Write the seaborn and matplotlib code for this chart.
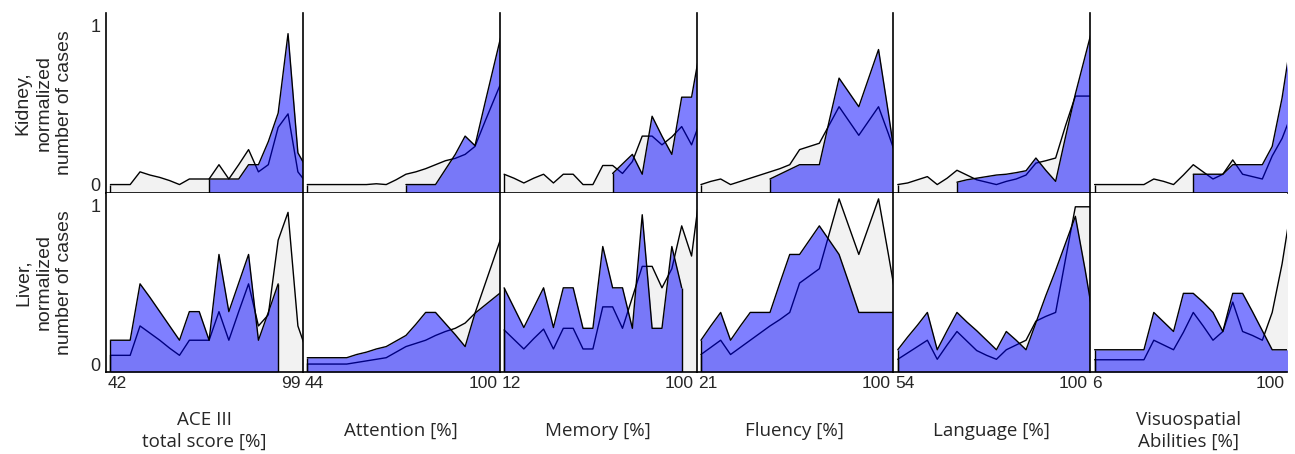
import numpy as np
import matplotlib
matplotlib.use("Agg")
import matplotlib.pyplot as plt
import seaborn as sns

nan = np.nan

# ---- categories / labels ----
measures = ["ACE III\ntotal score [%]", "Attention [%]", "Memory [%]",
            "Fluency [%]", "Language [%]", "Visuospatial\nAbilities [%]"]
range_min = ["42", "44", "12", "21", "54", "6"]
range_max = ["99", "100", "100", "100", "100", "100"]
row_labels = ["Kidney,\nnormalized\nnumber of cases",
              "Liver,\nnormalized\nnumber of cases"]
ytick_vals = [0, 1]

# ---- Kidney: all cases (grey) and subgroup (blue), 21 bins each ----
kidney_grey_ace = [0, 0, 0, 0.08, 0.06, 0.045, 0.025, 0.0, 0.035, 0.035, 0.035,
                   0.125, 0.035, 0.125, 0.22, 0.08, 0.125, 0.36, 0.445, 0.08, 0.0]
kidney_blue_ace = [nan] * 10 + [0.035, 0.035, 0.035, 0.035, 0.125, 0.125, 0.27,
                                0.45, 0.95, 0.2, 0.09]
kidney_grey_att = [0, 0, 0, 0, 0, 0, 0, 0.005, 0.0, 0.03, 0.065, 0.08, 0.10,
                   0.125, 0.15, 0.165, 0.19, 0.24, 0.395, 0.545, 0.695]
kidney_blue_att = [nan] * 10 + [0.0, 0.0, 0.0, 0.0, 0.095, 0.19, 0.305, 0.245,
                                0.51, 0.77, 1.03]
kidney_grey_mem = [0.065, 0.04, 0.01, 0.04, 0.065, 0.01, 0.065, 0.065, 0.0, 0.0,
                   0.12, 0.12, 0.07, 0.145, 0.305, 0.305, 0.25, 0.3, 0.365, 0.25, 0.42]
kidney_blue_mem = [nan] * 11 + [0.07, 0.13, 0.19, 0.065, 0.43, 0.305, 0.19,
                                0.55, 0.55, 0.9]
kidney_grey_flu = [0.0, 0.02, 0.035, 0.0, 0.02, 0.04, 0.06, 0.08, 0.1, 0.125,
                   0.22, 0.24, 0.26, 0.375, 0.49, 0.4, 0.31, 0.4, 0.49, 0.32, 0.14]
kidney_blue_flu = [nan] * 7 + [0.035, 0.065, 0.095, 0.125, 0.125, 0.125, 0.40,
                               0.67, 0.58, 0.49, 0.67, 0.85, 0.45, 0.03]
kidney_grey_lan = [0.0, 0.01, 0.03, 0.05, 0.0, 0.04, 0.09, 0.06, 0.03, 0.015,
                   0.0, 0.02, 0.035, 0.06, 0.135, 0.15, 0.167, 0.37, 0.557, 0.557, 0.557]
kidney_blue_lan = [nan] * 6 + [0.015, 0.03, 0.04, 0.05, 0.06, 0.065, 0.075,
                               0.087, 0.167, 0.09, 0.02, 0.3, 0.57, 0.81, 1.05]
kidney_grey_vis = [0, 0, 0, 0, 0, 0, 0.035, 0.02, 0.0, 0.06, 0.125, 0.08, 0.035,
                   0.065, 0.155, 0.065, 0.05, 0.035, 0.18, 0.29, 0.45]
kidney_blue_vis = [nan] * 10 + [0.065, 0.065, 0.065, 0.065, 0.125, 0.125, 0.125,
                                0.125, 0.24, 0.545, 0.945]

# ---- Liver ----
liver_grey_ace = [0.055, 0.055, 0.055, 0.24, 0.195, 0.15, 0.10, 0.055, 0.15, 0.15,
                  0.15, 0.33, 0.15, 0.33, 0.505, 0.24, 0.31, 0.78, 0.955, 0.24, 0.06]
liver_blue_ace = [0.15, 0.15, 0.15, 0.505, 0.42, 0.33, 0.24, 0.15, 0.33, 0.33,
                  0.15, 0.69, 0.33, 0.51, 0.69, 0.15, 0.325, 0.505, nan, nan, nan]
liver_grey_att = [0, 0, 0, 0, 0, 0.01, 0.02, 0.03, 0.04, 0.075, 0.11, 0.13, 0.15,
                  0.18, 0.205, 0.225, 0.258, 0.32, 0.5, 0.68, 0.86]
liver_blue_att = [0.04, 0.04, 0.04, 0.04, 0.04, 0.06, 0.075, 0.095, 0.11, 0.145,
                  0.18, 0.25, 0.325, 0.325, 0.255, 0.185, 0.11, 0.32, 0.37, 0.42, 0.47]
liver_grey_mem = [0.215, 0.155, 0.095, 0.16, 0.22, 0.095, 0.225, 0.225, 0.095, 0.095,
                  0.36, 0.36, 0.225, 0.42, 0.615, 0.615, 0.48, 0.6, 0.87, 0.68, 1.16]
liver_blue_mem = [0.48, 0.355, 0.23, 0.355, 0.48, 0.23, 0.48, 0.48, 0.225, 0.225,
                  0.74, 0.48, 0.48, 0.225, 0.94, 0.225, 0.225, 0.74, 0.48, nan, nan]
liver_grey_flu = [0.06, 0.105, 0.15, 0.06, 0.105, 0.15, 0.195, 0.24, 0.28, 0.325,
                  0.51, 0.555, 0.6, 0.82, 1.04, 0.865, 0.69, 0.865, 1.04, 0.69, 0.33]
liver_blue_flu = [0.15, 0.24, 0.325, 0.15, 0.24, 0.325, 0.325, 0.325, 0.51, 0.69,
                  0.69, 0.78, 0.87, 0.78, 0.69, 0.51, 0.325, 0.325, 0.325, 0.325, 0.325]
liver_grey_lan = [0.03, 0.07, 0.11, 0.15, 0.03, 0.12, 0.205, 0.145, 0.085, 0.055,
                  0.03, 0.09, 0.12, 0.15, 0.27, 0.3, 0.325, 0.66, 0.99, 0.99, 0.99]
liver_blue_lan = [0.09, 0.17, 0.245, 0.325, 0.09, 0.21, 0.325, 0.265, 0.21, 0.15,
                  0.09, 0.205, 0.15, 0.09, 0.26, 0.43, 0.59, 0.76, 0.93, 0.59, 0.22]
liver_grey_vis = [0.027, 0.027, 0.027, 0.027, 0.027, 0.027, 0.15, 0.12, 0.09, 0.2,
                  0.325, 0.24, 0.15, 0.205, 0.39, 0.205, 0.18, 0.15, 0.325, 0.63, 1.02]
liver_blue_vis = [0.09, 0.09, 0.09, 0.09, 0.09, 0.09, 0.325, 0.265, 0.205, 0.445,
                  0.445, 0.39, 0.325, 0.205, 0.445, 0.445, 0.33, 0.21, 0.09, 0.09, 0.09]

grey = [[kidney_grey_ace, kidney_grey_att, kidney_grey_mem, kidney_grey_flu,
         kidney_grey_lan, kidney_grey_vis],
        [liver_grey_ace, liver_grey_att, liver_grey_mem, liver_grey_flu,
         liver_grey_lan, liver_grey_vis]]
blue = [[kidney_blue_ace, kidney_blue_att, kidney_blue_mem, kidney_blue_flu,
         kidney_blue_lan, kidney_blue_vis],
        [liver_blue_ace, liver_blue_att, liver_blue_mem, liver_blue_flu,
         liver_blue_lan, liver_blue_vis]]

# ---- styling ----
sns.set_theme(style="white")
plt.rcParams["font.family"] = ["Liberation Sans", "DejaVu Sans"]

W, H = 1295, 454
fig, axes = plt.subplots(2, 6, figsize=(W / 100, H / 100), dpi=100, sharey=True)
fig.subplots_adjust(left=106 / W, right=1287 / W, top=1 - 13 / H,
                    bottom=1 - 372 / H, wspace=0, hspace=0)

BASE = -0.05
XLIM = (-0.45, 19.5)
GREY_FILL = "#f2f2f2"
BLUE_FILL = (0.0, 0.0, 1.0, 0.5)
LW = 1.0

for r in range(2):
    for c in range(6):
        ax = axes[r, c]
        g = np.array(grey[r][c], dtype=float)
        b = np.array(blue[r][c], dtype=float)
        x = np.arange(len(g))

        # grey (all cases)
        ax.fill_between(x, g, BASE, color=GREY_FILL, lw=0, zorder=1)
        sns.lineplot(x=x, y=g, ax=ax, color="black", lw=LW, estimator=None,
                     zorder=2)
        ax.vlines(x[0], BASE, g[0], color="black", lw=LW, zorder=2)

        # blue (subgroup), semi-transparent on top
        m = ~np.isnan(b)
        xb, yb = x[m], b[m]
        ax.fill_between(xb, yb, BASE, color=BLUE_FILL, lw=0, zorder=3)
        sns.lineplot(x=xb, y=yb, ax=ax, color="black", lw=LW, estimator=None,
                     zorder=4)
        ax.vlines([xb[0], xb[-1]], BASE, [yb[0], yb[-1]], color="black",
                  lw=LW, zorder=4)

        ax.set_xlim(*XLIM)
        ax.set_ylim(BASE, 1.08)
        ax.set_xlabel("")
        ax.set_ylabel("")
        for s in ["top", "right"]:
            ax.spines[s].set_visible(False)
        for s in ["left", "bottom"]:
            ax.spines[s].set_color("black")
            ax.spines[s].set_linewidth(1.2)
            ax.spines[s].set_zorder(5)
        ax.tick_params(length=0)

        if r == 1:
            ax.set_xticks([XLIM[0] + 0.2, XLIM[1] - 0.25])
            ax.set_xticklabels([range_min[c], range_max[c]], fontsize=12.5)
            lbls = ax.get_xticklabels()
            lbls[0].set_ha("left")
            lbls[1].set_ha("right")
            ax.tick_params(axis="x", pad=3)
            ax.set_xlabel(measures[c], fontsize=13.5,
                          family=["Open Sans", "DejaVu Sans"], linespacing=1.25)
            ax.xaxis.set_label_coords(0.5, -0.33)
            ax.xaxis.label.set_va("center")
        else:
            ax.set_xticks([])

    axes[r, 0].set_yticks(ytick_vals)
    axes[r, 0].set_yticklabels([str(v) for v in ytick_vals], fontsize=13)
    axes[r, 0].tick_params(axis="y", pad=4)
    axes[r, 0].text(-0.315, 0.5, row_labels[r], transform=axes[r, 0].transAxes,
                    rotation=90, ha="center", va="center", fontsize=14,
                    linespacing=1.3, multialignment="center")

fig.savefig("out.png", dpi=100, facecolor="white")
